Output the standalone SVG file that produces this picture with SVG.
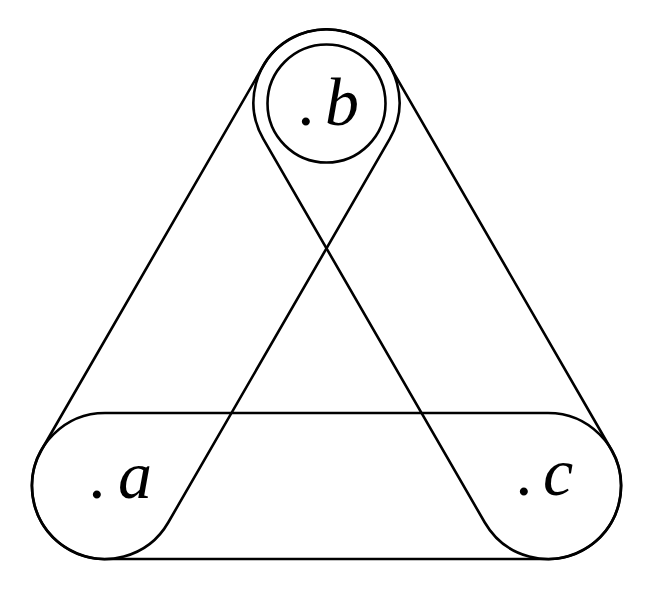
<svg xmlns="http://www.w3.org/2000/svg" width="664" height="600" viewBox="0 0 664 600">
<style>
.edge{fill:none;stroke:#000;stroke-width:2.6}
.lbl{font-family:"Liberation Serif","DejaVu Serif",serif;font-style:italic;font-size:68px;fill:#000}
</style>
<rect width="664" height="600" fill="#fff"/>
<g id="connectors">
<rect class="edge" x="-294.5" y="-73" width="589" height="146" rx="73" transform="translate(326.5,486)"/>
<rect class="edge" x="-294.5" y="-73" width="589" height="146" rx="73" transform="translate(215.75,294.2) rotate(-60)"/>
<rect class="edge" x="-294.5" y="-73" width="589" height="146" rx="73" transform="translate(437.25,294.2) rotate(60)"/>
</g>
<g id="node-b">
<circle class="edge" cx="326.5" cy="103.5" r="59"/>
<text class="lbl"><tspan x="299" y="125">.</tspan><tspan x="325" y="125">b</tspan></text>
</g>
<g id="node-a">
<text class="lbl"><tspan x="90" y="498">.</tspan><tspan x="118" y="498">a</tspan></text>
</g>
<g id="node-c">
<text class="lbl"><tspan x="517" y="495">.</tspan><tspan x="543" y="495">c</tspan></text>
</g>
</svg>
